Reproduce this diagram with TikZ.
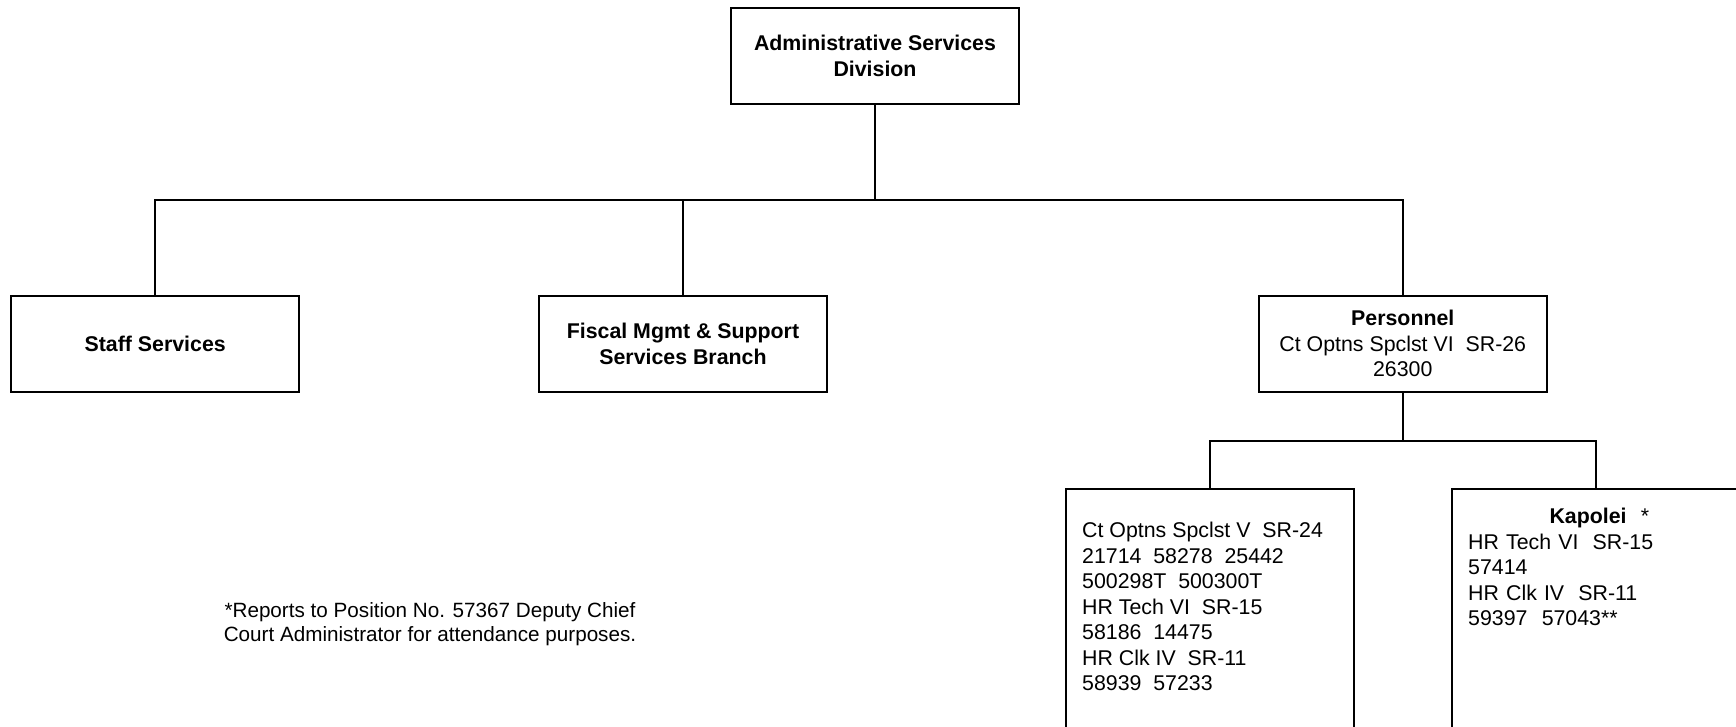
\documentclass[tikz,border=0pt]{standalone}
\usepackage{fontspec}
\setmainfont{Liberation Sans}
\usetikzlibrary{positioning}
\tikzset{
	unitbox/.style={draw, line width=0.9pt, minimum width=129.6pt, minimum height=43.2pt, align=center, inner sep=2pt, font=\fontsize{9.6}{11.5}\selectfont},
	tallbox/.style={unitbox, minimum height=135pt},
	listtext/.style={anchor=north west, align=left, inner sep=0pt, font=\fontsize{9.6}{11.5}\selectfont},
	notetext/.style={align=center, inner sep=0pt, font=\fontsize{9.3}{11}\selectfont},
	link/.style={line width=0.9pt}
}
\begin{document}
\begin{tikzpicture}[x=0.45pt, y=-0.45pt]
	\useasboundingbox (0,0) rectangle (1736,726);
	
	\node[unitbox] (asd) at (875,56) {\textbf{Administrative Services}\\\textbf{Division}};
	\node[unitbox, below=85.4pt of asd, xshift=-86.4pt] (fiscal) {\textbf{Fiscal Mgmt \& Support}\\\textbf{Services Branch}};
	\node[unitbox, left=107pt of fiscal] (staff) {\textbf{Staff Services}};
	\node[unitbox, right=193.4pt of fiscal] (personnel) {\textbf{Personnel}\\Ct Optns Spclst VI\ \ SR-26\\26300};
	\node[tallbox, below=42.75pt of personnel, xshift=-86.85pt] (clerks) {};
	\node[tallbox, right=43.2pt of clerks] (kapolei) {};
	
	\node[listtext] (clerkslist) at ([xshift=7.65pt, yshift=-15.2pt]clerks.north west) {Ct Optns Spclst V\ \ SR-24\\21714\ \ 58278\ \ 25442\\500298T\ \ 500300T\\HR Tech VI\ \ SR-15\\58186\ \ 14475\\HR Clk IV\ \ SR-11\\58939\ \ 57233};
	\node[listtext, text width=118pt] (kapoleilist) at ([xshift=7.65pt, yshift=-8.9pt]kapolei.north west) {\makebox[\linewidth]{\textbf{Kapolei}\ \ *}\\HR Tech VI\ \ SR-15\\57414\\HR Clk IV\ \ SR-11\\59397\ \ 57043**};
	
	\node[notetext] (note) at (430,624) {*Reports to Position No. 57367 Deputy Chief\\Court Administrator for attendance purposes.};
	
	\coordinate[below=42.75pt of asd] (bus1);
	\draw[link] (asd) -- (bus1) -| (staff);
	\draw[link] (bus1) -| (fiscal);
	\draw[link] (bus1) -| (personnel);
	
	\coordinate[below=21.6pt of personnel] (bus2);
	\draw[link] (personnel) -- (bus2) -| (clerks);
	\draw[link] (bus2) -| (kapolei);
\end{tikzpicture}
\end{document}
